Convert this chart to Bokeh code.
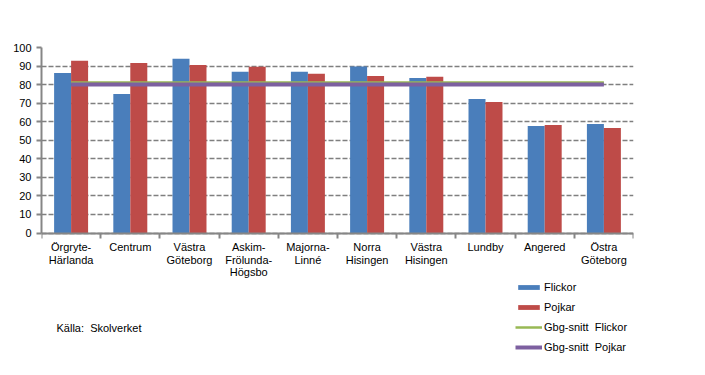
from bokeh.plotting import figure
from bokeh.models import (Range1d, FixedTicker, Legend, LegendItem, Label)
from bokeh.embed import file_html
from bokeh.resources import INLINE

categories = ["Örgryte-\nHärlanda", "Centrum", "Västra\nGöteborg", "Askim-\nFrölunda-\nHögsbo",
              "Majorna-\nLinné", "Norra\nHisingen", "Västra\nHisingen", "Lundby", "Angered",
              "Östra\nGöteborg"]
flickor = [86.3, 75.0, 93.9, 86.9, 86.9, 89.7, 83.6, 72.3, 57.7, 58.8]
pojkar = [92.8, 91.7, 90.5, 89.6, 85.8, 84.7, 84.2, 70.6, 58.2, 56.6]
gbg_flickor = 81.1
gbg_pojkar = 80.0
y_ticks = list(range(0, 101, 10))
source_text = "Källa:\u00a0\u00a0Skolverket"

FONT = "Liberation Sans"
BLUE = "#4A7EBB"
RED = "#BE4B48"
GREEN = "#98B954"
PURPLE = "#7D60A0"
GRAY = "#868686"

n = len(categories)
centers = [i + 0.5 for i in range(n)]
bw = 0.287

# frame: top 47, bottom 355 (308 px); value 0 sits 185.5 px below the top
FRAME_H = 308
PX_100 = 185.5
y_start = -(FRAME_H - PX_100) / PX_100 * 100

p = figure(width=689, height=359, output_backend="svg", toolbar_location=None,
           x_range=Range1d(0, n), y_range=Range1d(y_start, 100),
           min_border_left=41, min_border_right=56, min_border_top=47, min_border_bottom=4)
p.outline_line_color = None
p.background_fill_color = "white"
p.border_fill_color = "white"

rb = p.vbar(x=[c - bw / 2 for c in centers], top=flickor, width=bw, bottom=0,
            fill_color=BLUE, line_color=None)
rr = p.vbar(x=[c + bw / 2 for c in centers], top=pojkar, width=bw, bottom=0,
            fill_color=RED, line_color=None)
rg = p.line(x=[centers[0], centers[-1]], y=[gbg_flickor, gbg_flickor], line_color=GREEN, line_width=2.5)
rp = p.line(x=[centers[0], centers[-1]], y=[gbg_pojkar, gbg_pojkar], line_color=PURPLE, line_width=4)

# x axis pinned at y = 0
p.xaxis.fixed_location = 0
p.xaxis.ticker = FixedTicker(ticks=centers, minor_ticks=list(range(0, n + 1)))
p.xaxis.major_label_overrides = {c: lab for c, lab in zip(centers, categories)}
p.xaxis.major_tick_line_color = None
p.xaxis.major_tick_out = 0
p.xaxis.major_tick_in = 0
p.xaxis.minor_tick_out = 5
p.xaxis.minor_tick_in = 0
p.xaxis.minor_tick_line_color = GRAY
p.xaxis.minor_tick_line_width = 2
p.xaxis.axis_line_color = GRAY
p.xaxis.axis_line_width = 2
p.xaxis.major_label_standoff = 3
p.xaxis.major_label_text_font = FONT
p.xaxis.major_label_text_font_size = "11px"
p.xaxis.major_label_text_color = "black"
p.xaxis.major_label_text_line_height = 1.05

p.yaxis.ticker = FixedTicker(ticks=y_ticks, minor_ticks=[])
p.yaxis.bounds = (0, 100)
p.yaxis.major_tick_out = 5
p.yaxis.major_tick_in = 0
p.yaxis.major_tick_line_color = GRAY
p.yaxis.major_tick_line_width = 2
p.yaxis.axis_line_color = GRAY
p.yaxis.axis_line_width = 2
p.yaxis.major_label_standoff = 5
p.yaxis.major_label_text_font = FONT
p.yaxis.major_label_text_font_size = "11px"
p.yaxis.major_label_text_color = "black"

p.xgrid.grid_line_color = None
p.ygrid.grid_line_color = "#7F7F7F"
p.ygrid.grid_line_width = 1.7
p.ygrid.grid_line_dash = "5 2"

legend = Legend(items=[
    LegendItem(label="Flickor", renderers=[rb]),
    LegendItem(label="Pojkar", renderers=[rr]),
    LegendItem(label="Gbg-snitt  Flickor", renderers=[rg]),
    LegendItem(label="Gbg-snitt  Pojkar", renderers=[rp]),
], location=(474, 1), glyph_width=27, glyph_height=6, label_height=14, spacing=6,
    label_standoff=2, padding=0, margin=0, border_line_color=None, background_fill_alpha=0,
    label_text_font=FONT, label_text_font_size="11px", label_text_color="black")
p.add_layout(legend, "center")

p.add_layout(Label(x=15, y=28, x_units="screen", y_units="screen", text=source_text,
                   text_font=FONT, text_font_size="11px", text_color="black",
                   text_baseline="middle"))

open("out.html", "w").write(file_html(p, INLINE))
